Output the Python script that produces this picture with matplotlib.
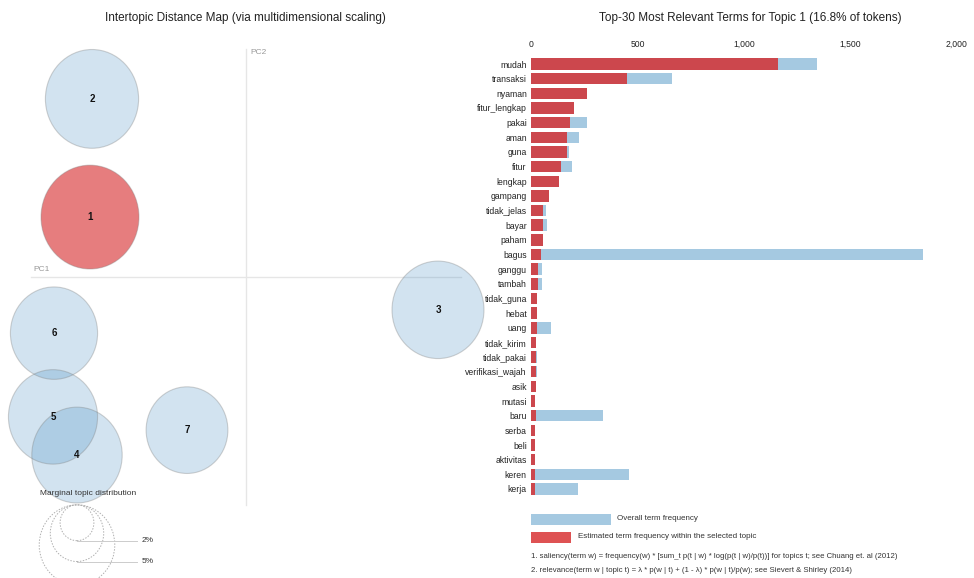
import numpy as np
import matplotlib
matplotlib.use("Agg")
import matplotlib.pyplot as plt
from matplotlib.patches import Circle, Rectangle

plt.rcParams["font.family"] = ["Liberation Sans", "DejaVu Sans"]

# ---- intertopic map (PC coordinates, share of tokens in %) ----
topic_ids = [1, 2, 3, 4, 5, 6, 7]
pc1 = [-0.312, -0.308, 0.384, -0.338, -0.386, -0.384, -0.118]
pc2 = [0.113, 0.336, -0.062, -0.336, -0.264, -0.106, -0.289]
topic_share = [16.8, 15.2, 14.8, 14.3, 13.9, 13.3, 11.7]
selected_topic = 1
marginal_levels = [2, 5, 10]
marginal_labels = ["2%", "5%", "10%"]

# ---- top-30 relevant terms for topic 1 ----
terms = ["mudah", "transaksi", "nyaman", "fitur_lengkap", "pakai", "aman",
         "guna", "fitur", "lengkap", "gampang", "tidak_jelas", "bayar",
         "paham", "bagus", "ganggu", "tambah", "tidak_guna", "hebat", "uang",
         "tidak_kirim", "tidak_pakai", "verifikasi_wajah", "asik", "mutasi",
         "baru", "serba", "beli", "aktivitas", "keren", "kerja"]
overall_freq = [1343, 662, 265, 202, 263, 225, 178, 192, 131, 85, 70, 75,
                56, 1840, 52, 52, 30, 30, 94, 25, 28, 26, 22, 20, 338, 20,
                20, 18, 460, 221]
topic_freq = [1160, 451, 263, 202, 183, 169, 169, 141, 131, 85, 56, 56,
              56, 47, 33, 33, 30, 30, 28, 25, 25, 25, 22, 20, 23, 20, 20,
              18, 20, 20]
freq_ticks = [0, 500, 1000, 1500, 2000]

BLUE = "#1f77b4"
RED = "#d62728"
BAR_BLUE = "#a5c9e1"
W, H = 974, 578
RADIUS_SCALE = 0.0239   # circle radius per sqrt(% of tokens)
AXIS_EXT = 0.43


def fig_box(x0, y0, x1, y1):
    # pixel box (top-left origin) -> figure fraction rect
    return [x0 / W, 1 - y1 / H, (x1 - x0) / W, (y1 - y0) / H]


def draw_topic_map(fig):
    ax = fig.add_axes(fig_box(0, 30, 490, 578))
    ax.set_xlim(-0.492, 0.488)
    ax.set_ylim(-0.568, 0.466)
    ax.axis("off")

    ax.plot([-AXIS_EXT, AXIS_EXT], [0, 0], color="#e6e6e6", lw=1, zorder=1)
    ax.plot([0, 0], [-AXIS_EXT, AXIS_EXT], color="#e6e6e6", lw=1, zorder=1)
    ax.text(-0.426, 0.008, "PC1", fontsize=6, color="#999999",
            ha="left", va="bottom")
    ax.text(0.008, AXIS_EXT, "PC2", fontsize=6, color="#999999",
            ha="left", va="top")

    for t, x, y, s in zip(topic_ids, pc1, pc2, topic_share):
        r = RADIUS_SCALE * np.sqrt(s)
        if t == selected_topic:
            face, alpha = RED, 0.6
        else:
            face, alpha = BLUE, 0.2
        ax.add_patch(Circle((x, y), r, facecolor=face, alpha=alpha,
                            edgecolor="none", zorder=2, clip_on=False))
        ax.add_patch(Circle((x, y), r, facecolor="none", edgecolor="#7f7f7f",
                            alpha=0.35, lw=0.8, zorder=3, clip_on=False))
        ax.text(x, y, str(t), fontsize=7, fontweight="bold", color="#111111",
                ha="center", va="center", zorder=4)

    # marginal topic distribution key (the 10% ring runs off the bottom)
    ax.text(-0.412, -0.408, "Marginal topic distribution", fontsize=6,
            color="#333333", ha="left", va="center")
    cx = -0.338
    for lvl, lab in zip(marginal_levels, marginal_labels):
        r = RADIUS_SCALE * np.sqrt(lvl)
        ax.add_patch(Circle((cx, -AXIS_EXT - r), r, facecolor="none",
                            edgecolor="#b0b0b0", lw=0.7, ls=(0, (1.5, 1.5)),
                            clip_on=True))
        yb = -AXIS_EXT - 2 * r
        if yb < ax.get_ylim()[0] + 0.02:
            continue
        ax.plot([cx, -0.218], [yb, yb], color="#cccccc", lw=0.7)
        ax.text(-0.208, yb, lab, fontsize=6, color="#333333",
                ha="left", va="center")


def draw_term_bars(fig):
    ax = fig.add_axes(fig_box(531, 56.7, 957, 496.3))
    y = np.arange(len(terms))
    ax.barh(y, overall_freq, height=0.78, color=BAR_BLUE, zorder=1)
    ax.barh(y, topic_freq, height=0.78, color=RED, alpha=0.8, zorder=2)
    ax.set_xlim(0, 2000)
    ax.set_ylim(len(terms) - 0.5, -0.5)
    ax.set_yticks(y)
    ax.set_yticklabels(terms, fontsize=6.2, color="#222222")
    ax.xaxis.tick_top()
    ax.set_xticks(freq_ticks)
    ax.set_xticklabels([f"{v:,}" for v in freq_ticks], fontsize=6.2,
                       color="#222222")
    ax.tick_params(axis="both", length=0)
    ax.tick_params(axis="x", pad=5.5)
    ax.tick_params(axis="y", pad=3)
    for sp in ax.spines.values():
        sp.set_visible(False)


def main():
    fig = plt.figure(figsize=(9.74, 5.78), dpi=100)

    fig.text(245 / W, 1 - 18 / H,
             "Intertopic Distance Map (via multidimensional scaling)",
             fontsize=8.5, color="#222222", ha="center", va="center")
    fig.text(750 / W, 1 - 18 / H,
             "Top-30 Most Relevant Terms for Topic 1 (16.8% of tokens)",
             fontsize=8.5, color="#222222", ha="center", va="center")

    draw_topic_map(fig)
    draw_term_bars(fig)

    # legend for the bar chart
    fig.patches.append(Rectangle((531 / W, 1 - 525 / H), 80 / W, 11 / H,
                                 transform=fig.transFigure,
                                 facecolor=BAR_BLUE, edgecolor="none"))
    fig.patches.append(Rectangle((531 / W, 1 - 543 / H), 40 / W, 11 / H,
                                 transform=fig.transFigure, facecolor=RED,
                                 edgecolor="none", alpha=0.8))
    fig.text(617 / W, 1 - 519 / H, "Overall term frequency", fontsize=5.8,
             color="#333333", va="center")
    fig.text(578 / W, 1 - 537 / H,
             "Estimated term frequency within the selected topic",
             fontsize=5.8, color="#333333", va="center")
    fig.text(531 / W, 1 - 556 / H,
             "1. saliency(term w) = frequency(w) * [sum_t p(t | w) * "
             "log(p(t | w)/p(t))] for topics t; see Chuang et. al (2012)",
             fontsize=5.6, color="#333333", va="center")
    fig.text(531 / W, 1 - 570 / H,
             "2. relevance(term w | topic t) = \u03bb * p(w | t) + "
             "(1 - \u03bb) * p(w | t)/p(w); see Sievert & Shirley (2014)",
             fontsize=5.6, color="#333333", va="center")

    fig.savefig("out.png", dpi=100)
    plt.close(fig)


if __name__ == "__main__":
    main()
